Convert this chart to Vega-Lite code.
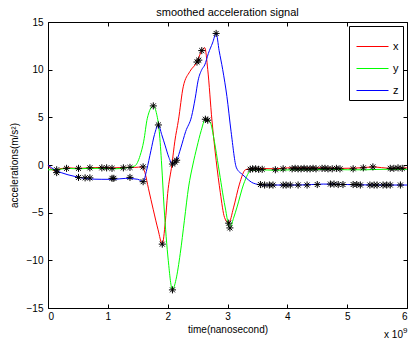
{
  "$schema": "https://vega.github.io/schema/vega-lite/v6.json",
  "autosize": {"type": "none"},
  "padding": {"left": 48, "top": 22, "right": 1, "bottom": 35},
  "width": 359,
  "height": 286,
  "background": "white",
  "config": {
    "font": "Liberation Sans",
    "view": {"stroke": "black", "strokeWidth": 1},
    "axis": {"grid": false, "domainColor": "black", "tickColor": "black", "labelColor": "black", "titleColor": "black", "labelFont": "Liberation Sans", "titleFont": "Liberation Sans", "labelFontSize": 10, "titleFontSize": 10, "titleFontWeight": "normal"}
  },
  "title": {"text": "smoothed acceleration signal", "fontSize": 11, "fontWeight": "normal", "font": "Liberation Sans", "color": "black", "offset": -1},
  "datasets": {
    "lines": [
      {"t": 0, "a": 0, "s": "x"}, {"t": 0.05, "a": -0.4, "s": "x"}, {"t": 0.12, "a": -0.6, "s": "x"}, {"t": 0.2, "a": -0.4, "s": "x"}, {"t": 0.35, "a": -0.3, "s": "x"}, {"t": 0.5, "a": -0.35, "s": "x"}, {"t": 0.7, "a": -0.3, "s": "x"}, {"t": 0.9, "a": -0.25, "s": "x"}, {"t": 1.1, "a": -0.3, "s": "x"}, {"t": 1.3, "a": -0.25, "s": "x"}, {"t": 1.45, "a": -0.25, "s": "x"}, {"t": 1.58, "a": -0.2, "s": "x"}, {"t": 1.62, "a": -0.8, "s": "x"}, {"t": 1.68, "a": -2.5, "s": "x"}, {"t": 1.76, "a": -4.7, "s": "x"}, {"t": 1.84, "a": -6.8, "s": "x"}, {"t": 1.91, "a": -8.3, "s": "x"}, {"t": 1.96, "a": -6, "s": "x"}, {"t": 2.0, "a": -3, "s": "x"}, {"t": 2.07, "a": 0, "s": "x"}, {"t": 2.12, "a": 2.5, "s": "x"}, {"t": 2.18, "a": 4.7, "s": "x"}, {"t": 2.26, "a": 8.2, "s": "x"}, {"t": 2.37, "a": 9.8, "s": "x"}, {"t": 2.49, "a": 10.8, "s": "x"}, {"t": 2.57, "a": 12, "s": "x"}, {"t": 2.62, "a": 12.3, "s": "x"}, {"t": 2.67, "a": 10, "s": "x"}, {"t": 2.74, "a": 4.7, "s": "x"}, {"t": 2.81, "a": 0.5, "s": "x"}, {"t": 2.88, "a": -2.9, "s": "x"}, {"t": 2.95, "a": -5.5, "s": "x"}, {"t": 3.02, "a": -6.1, "s": "x"}, {"t": 3.1, "a": -4.5, "s": "x"}, {"t": 3.2, "a": -2.0, "s": "x"}, {"t": 3.3, "a": -0.5, "s": "x"}, {"t": 3.45, "a": -0.35, "s": "x"}, {"t": 3.8, "a": -0.4, "s": "x"}, {"t": 4.0, "a": -0.3, "s": "x"}, {"t": 4.3, "a": -0.3, "s": "x"}, {"t": 4.6, "a": -0.3, "s": "x"}, {"t": 4.9, "a": -0.35, "s": "x"}, {"t": 5.2, "a": -0.3, "s": "x"}, {"t": 5.45, "a": -0.2, "s": "x"}, {"t": 5.7, "a": -0.35, "s": "x"}, {"t": 6.0, "a": -0.3, "s": "x"},
      {"t": 0, "a": -0.5, "s": "y"}, {"t": 0.15, "a": -0.5, "s": "y"}, {"t": 0.3, "a": -0.35, "s": "y"}, {"t": 0.5, "a": -0.4, "s": "y"}, {"t": 0.7, "a": -0.35, "s": "y"}, {"t": 0.9, "a": -0.35, "s": "y"}, {"t": 1.1, "a": -0.4, "s": "y"}, {"t": 1.3, "a": -0.3, "s": "y"}, {"t": 1.45, "a": -0.1, "s": "y"}, {"t": 1.54, "a": 1, "s": "y"}, {"t": 1.6, "a": 2.5, "s": "y"}, {"t": 1.66, "a": 4.9, "s": "y"}, {"t": 1.76, "a": 6.2, "s": "y"}, {"t": 1.81, "a": 5.5, "s": "y"}, {"t": 1.86, "a": 3.5, "s": "y"}, {"t": 1.9, "a": 0, "s": "y"}, {"t": 1.94, "a": -4.4, "s": "y"}, {"t": 2.01, "a": -10, "s": "y"}, {"t": 2.08, "a": -13.1, "s": "y"}, {"t": 2.14, "a": -12, "s": "y"}, {"t": 2.21, "a": -9.3, "s": "y"}, {"t": 2.28, "a": -5.8, "s": "y"}, {"t": 2.35, "a": -2.3, "s": "y"}, {"t": 2.42, "a": 0, "s": "y"}, {"t": 2.49, "a": 1.9, "s": "y"}, {"t": 2.56, "a": 3.6, "s": "y"}, {"t": 2.63, "a": 4.8, "s": "y"}, {"t": 2.71, "a": 4.5, "s": "y"}, {"t": 2.78, "a": 2.5, "s": "y"}, {"t": 2.85, "a": -0.2, "s": "y"}, {"t": 2.96, "a": -4.4, "s": "y"}, {"t": 3.04, "a": -6.6, "s": "y"}, {"t": 3.1, "a": -5.6, "s": "y"}, {"t": 3.16, "a": -4.4, "s": "y"}, {"t": 3.27, "a": -2.0, "s": "y"}, {"t": 3.4, "a": -0.55, "s": "y"}, {"t": 3.55, "a": -0.5, "s": "y"}, {"t": 3.8, "a": -0.55, "s": "y"}, {"t": 4.1, "a": -0.5, "s": "y"}, {"t": 4.4, "a": -0.5, "s": "y"}, {"t": 4.7, "a": -0.45, "s": "y"}, {"t": 5.0, "a": -0.5, "s": "y"}, {"t": 5.3, "a": -0.5, "s": "y"}, {"t": 5.6, "a": -0.45, "s": "y"}, {"t": 6.0, "a": -0.45, "s": "y"},
      {"t": 0, "a": 0, "s": "z"}, {"t": 0.11, "a": -0.5, "s": "z"}, {"t": 0.22, "a": -0.8, "s": "z"}, {"t": 0.45, "a": -1.2, "s": "z"}, {"t": 0.67, "a": -1.45, "s": "z"}, {"t": 0.9, "a": -1.5, "s": "z"}, {"t": 1.1, "a": -1.5, "s": "z"}, {"t": 1.3, "a": -1.4, "s": "z"}, {"t": 1.5, "a": -1.5, "s": "z"}, {"t": 1.59, "a": -1.75, "s": "z"}, {"t": 1.65, "a": -0.5, "s": "z"}, {"t": 1.72, "a": 1.5, "s": "z"}, {"t": 1.78, "a": 3.2, "s": "z"}, {"t": 1.845, "a": 4.2, "s": "z"}, {"t": 1.9, "a": 3.2, "s": "z"}, {"t": 1.96, "a": 2, "s": "z"}, {"t": 2.02, "a": 0.8, "s": "z"}, {"t": 2.08, "a": 0.1, "s": "z"}, {"t": 2.15, "a": 0.5, "s": "z"}, {"t": 2.22, "a": 1.8, "s": "z"}, {"t": 2.3, "a": 3.5, "s": "z"}, {"t": 2.4, "a": 5.1, "s": "z"}, {"t": 2.46, "a": 7, "s": "z"}, {"t": 2.51, "a": 8.9, "s": "z"}, {"t": 2.57, "a": 10, "s": "z"}, {"t": 2.62, "a": 10.5, "s": "z"}, {"t": 2.68, "a": 11.7, "s": "z"}, {"t": 2.75, "a": 12.8, "s": "z"}, {"t": 2.81, "a": 13.8, "s": "z"}, {"t": 2.86, "a": 12, "s": "z"}, {"t": 2.92, "a": 10, "s": "z"}, {"t": 2.99, "a": 7.2, "s": "z"}, {"t": 3.06, "a": 3.5, "s": "z"}, {"t": 3.15, "a": -0.3, "s": "z"}, {"t": 3.25, "a": -1.0, "s": "z"}, {"t": 3.32, "a": -1.4, "s": "z"}, {"t": 3.43, "a": -1.9, "s": "z"}, {"t": 3.6, "a": -2.1, "s": "z"}, {"t": 3.8, "a": -2.1, "s": "z"}, {"t": 4.2, "a": -2.1, "s": "z"}, {"t": 4.6, "a": -2.0, "s": "z"}, {"t": 5.0, "a": -2.05, "s": "z"}, {"t": 5.5, "a": -2.1, "s": "z"}, {"t": 6.0, "a": -2.1, "s": "z"}
    ],
    "stars": [
      {"t": 0.145, "a": -0.5}, {"t": 0.31, "a": -0.35}, {"t": 0.51, "a": -0.35}, {"t": 0.7, "a": -0.3}, {"t": 0.9, "a": -0.3}, {"t": 0.98, "a": -0.3}, {"t": 1.07, "a": -0.35}, {"t": 1.26, "a": -0.3}, {"t": 1.37, "a": -0.25}, {"t": 1.59, "a": -0.2},
      {"t": 0.145, "a": -0.8}, {"t": 0.51, "a": -1.3}, {"t": 0.62, "a": -1.35}, {"t": 0.7, "a": -1.35}, {"t": 1.07, "a": -1.4}, {"t": 1.1, "a": -1.4}, {"t": 1.37, "a": -1.3}, {"t": 1.59, "a": -1.75},
      {"t": 1.76, "a": 6.2}, {"t": 1.845, "a": 4.2}, {"t": 1.91, "a": -8.3}, {"t": 2.08, "a": -13.1}, {"t": 2.08, "a": 0.1}, {"t": 2.15, "a": 0.5}, {"t": 2.12, "a": 0.3}, {"t": 2.49, "a": 10.8}, {"t": 2.52, "a": 11.0}, {"t": 2.57, "a": 12}, {"t": 2.81, "a": 13.8}, {"t": 2.63, "a": 4.8}, {"t": 2.67, "a": 4.7}, {"t": 3.02, "a": -6.1}, {"t": 3.04, "a": -6.6},
      {"t": 3.38, "a": -0.45}, {"t": 3.42, "a": -0.4}, {"t": 3.47, "a": -0.4}, {"t": 3.52, "a": -0.45}, {"t": 3.58, "a": -0.45}, {"t": 3.8, "a": -0.5}, {"t": 3.93, "a": -0.4}, {"t": 4.08, "a": -0.4}, {"t": 4.13, "a": -0.35}, {"t": 4.18, "a": -0.4}, {"t": 4.23, "a": -0.4}, {"t": 4.28, "a": -0.35}, {"t": 4.33, "a": -0.4}, {"t": 4.38, "a": -0.4}, {"t": 4.43, "a": -0.35}, {"t": 4.48, "a": -0.4}, {"t": 4.58, "a": -0.35}, {"t": 4.63, "a": -0.35}, {"t": 4.68, "a": -0.4}, {"t": 4.75, "a": -0.4}, {"t": 4.82, "a": -0.35}, {"t": 4.88, "a": -0.4}, {"t": 5.1, "a": -0.4}, {"t": 5.27, "a": -0.3}, {"t": 5.43, "a": -0.2}, {"t": 5.72, "a": -0.35}, {"t": 5.78, "a": -0.35}, {"t": 5.85, "a": -0.3}, {"t": 5.92, "a": -0.35},
      {"t": 3.55, "a": -2.05}, {"t": 3.62, "a": -2.1}, {"t": 3.7, "a": -2.1}, {"t": 3.76, "a": -2.1}, {"t": 3.93, "a": -2.1}, {"t": 3.98, "a": -2.1}, {"t": 4.05, "a": -2.1}, {"t": 4.18, "a": -2.1}, {"t": 4.33, "a": -2.1}, {"t": 4.5, "a": -2.05}, {"t": 4.72, "a": -2.0}, {"t": 4.78, "a": -2.0}, {"t": 4.85, "a": -2.05}, {"t": 4.93, "a": -2.05}, {"t": 5.1, "a": -2.05}, {"t": 5.16, "a": -2.05}, {"t": 5.22, "a": -2.1}, {"t": 5.38, "a": -2.1}, {"t": 5.45, "a": -2.1}, {"t": 5.5, "a": -2.1}, {"t": 5.6, "a": -2.1}, {"t": 5.66, "a": -2.1}, {"t": 5.72, "a": -2.1}, {"t": 5.89, "a": -2.1}
    ],
    "note": [{"t": 6, "a": -15}]
  },
  "layer": [
    {
      "data": {"name": "lines"},
      "mark": {"type": "line", "strokeWidth": 1, "interpolate": "monotone"},
      "encoding": {
        "x": {"field": "t", "type": "quantitative", "scale": {"domain": [0, 6], "nice": false, "zero": false}, "axis": {"values": [0, 1, 2, 3, 4, 5, 6], "ticks": false, "labelPadding": 3, "title": "time(nanosecond)", "titlePadding": 3, "domain": false}},
        "y": {"field": "a", "type": "quantitative", "scale": {"domain": [-15, 15], "nice": false, "zero": false}, "axis": {"values": [-15, -10, -5, 0, 5, 10, 15], "ticks": false, "labelPadding": 5, "title": "accelerations(m/s²)", "titlePadding": 7, "domain": false}},
        "color": {"field": "s", "type": "nominal", "scale": {"domain": ["x", "y", "z"], "range": ["#ff0000", "#00ff00", "#0000ff"]},
          "legend": {"title": null, "orient": "top-right", "offset": 4, "symbolType": "stroke", "symbolSize": 1024, "symbolStrokeWidth": 1, "symbolOffset": 3, "labelFontSize": 11, "labelFont": "Liberation Sans", "labelColor": "black", "strokeColor": "black", "fillColor": "white", "padding": 4, "rowPadding": -6, "labelOffset": 4}}
      }
    },
    {
      "data": {"name": "stars"},
      "mark": {"type": "point", "shape": "M0,-1V1M-1,0H1M-0.7,-0.7L0.7,0.7M-0.7,0.7L0.7,-0.7", "filled": false, "color": "black", "strokeWidth": 1, "size": 50, "opacity": 1},
      "encoding": {
        "x": {"field": "t", "type": "quantitative", "axis": {"orient": "top", "values": [0, 1, 2, 3, 4, 5, 6], "tickSize": -4, "labels": false, "title": null, "domain": false}},
        "y": {"field": "a", "type": "quantitative", "axis": {"orient": "right", "values": [-15, -10, -5, 0, 5, 10, 15], "tickSize": -4, "labels": false, "title": null, "domain": false}}
      }
    },
    {
      "data": {"name": "note"},
      "mark": {"type": "text", "text": "x 10", "align": "right", "baseline": "alphabetic", "dx": -4, "dy": 30, "fontSize": 10, "font": "Liberation Sans", "color": "black"},
      "encoding": {
        "x": {"field": "t", "type": "quantitative", "axis": {"orient": "bottom", "values": [0, 1, 2, 3, 4, 5, 6], "tickSize": -4, "labels": false, "title": null, "domain": false}},
        "y": {"field": "a", "type": "quantitative", "axis": {"orient": "left", "values": [-15, -10, -5, 0, 5, 10, 15], "tickSize": -4, "labels": false, "title": null, "domain": false}}
      }
    },
    {
      "data": {"name": "note"},
      "mark": {"type": "text", "text": "9", "align": "left", "baseline": "alphabetic", "dx": -4, "dy": 25, "fontSize": 8, "font": "Liberation Sans", "color": "black"},
      "encoding": {"x": {"field": "t", "type": "quantitative", "axis": null}, "y": {"field": "a", "type": "quantitative", "axis": null}}
    }
  ],
  "resolve": {"axis": {"x": "independent", "y": "independent"}}
}
